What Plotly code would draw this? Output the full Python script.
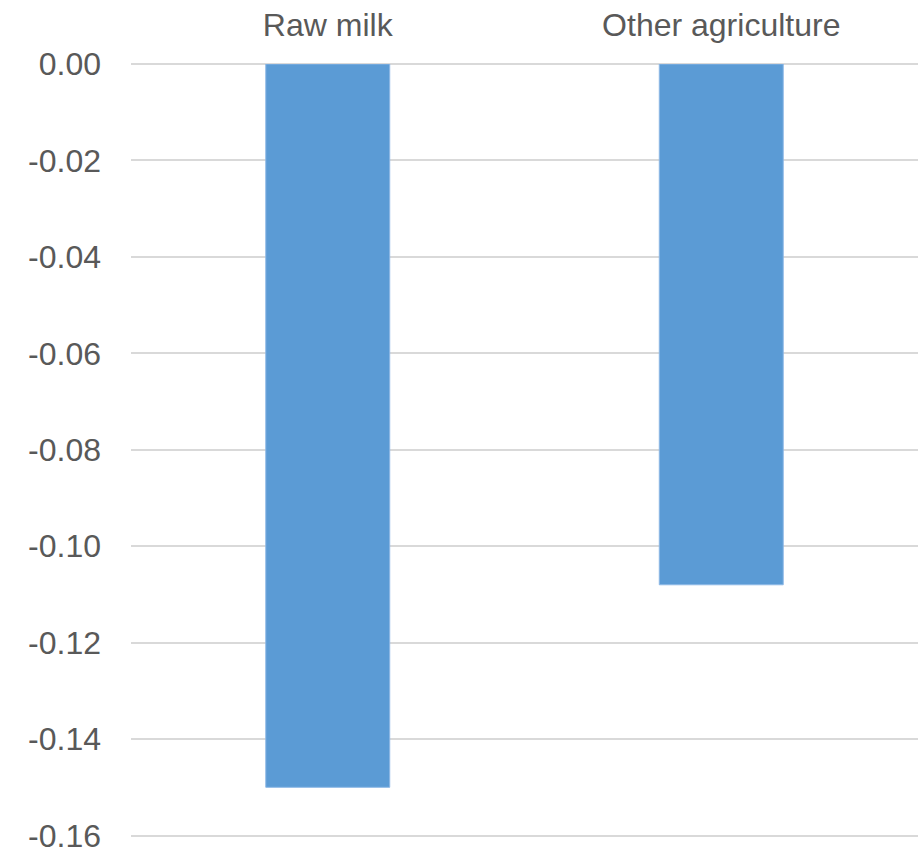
import plotly.graph_objects as go

# Chart data
categories = ["Raw milk", "Other agriculture"]
values = [-0.150, -0.108]
tick_vals = [0.00, -0.02, -0.04, -0.06, -0.08, -0.10, -0.12, -0.14, -0.16]
tick_text = ["0.00", "-0.02", "-0.04", "-0.06", "-0.08", "-0.10", "-0.12", "-0.14", "-0.16"]

BAR_COLOR = "#5B9BD5"
TEXT_COLOR = "#595959"
GRID_COLOR = "#D9D9D9"
FONT = "Liberation Sans, Arial, sans-serif"
FONT_SIZE = 32

fig = go.Figure(
    go.Bar(
        x=categories,
        y=values,
        marker=dict(color=BAR_COLOR, line=dict(color="#8DB8E6", width=1)),
    )
)

fig.update_layout(
    width=920,
    height=851,
    margin=dict(l=131, r=2, t=64, b=1, autoexpand=False),
    paper_bgcolor="white",
    plot_bgcolor="white",
    bargap=0.685,
    showlegend=False,
    font=dict(family=FONT, size=FONT_SIZE, color=TEXT_COLOR),
)

fig.update_xaxes(
    side="top",
    showgrid=False,
    showline=False,
    ticks="",
    tickfont=dict(family=FONT, size=FONT_SIZE, color=TEXT_COLOR),
    ticklabelstandoff=21,
)

# range runs a little past -0.16 so the last gridline and label are kept
fig.update_yaxes(
    range=[-0.163, 0.0],
    tickvals=tick_vals,
    ticktext=tick_text,
    ticklabeloverflow="allow",
    showgrid=True,
    gridcolor=GRID_COLOR,
    gridwidth=1.5,
    zeroline=True,
    zerolinecolor=GRID_COLOR,
    zerolinewidth=1.5,
    showline=False,
    ticks="",
    tickfont=dict(family=FONT, size=FONT_SIZE, color=TEXT_COLOR),
    ticklabelstandoff=29,
)

fig.write_html("out.html")
